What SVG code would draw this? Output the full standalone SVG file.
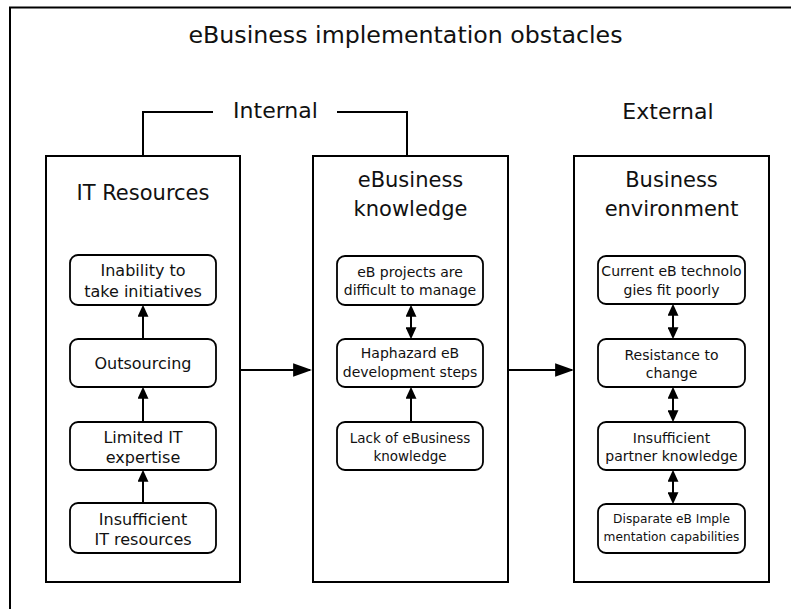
<svg xmlns="http://www.w3.org/2000/svg" width="791" height="609" viewBox="0 0 791 609">
<style>
.frame{fill:none;stroke:#000;stroke-width:2}
.grp{fill:#fff;stroke:#000;stroke-width:2}
.item{fill:#fff;stroke:#000;stroke-width:1.8}
text{font-family:"DejaVu Sans","Liberation Sans",sans-serif;fill:#111;text-anchor:middle}
.h1{font-size:23.7px}
.h2{font-size:22px}
.h3{font-size:21px}
.t16{font-size:16px}
.t14{font-size:14px}
.t13{font-size:13.5px}
.t12{font-size:12.2px}
.conn{stroke:#000;stroke-width:2;fill:none}
.small{marker-end:url(#ah)}
.dbl{marker-start:url(#ah);marker-end:url(#ah)}
.big{marker-end:url(#bh)}
</style>
<defs>
<marker id="ah" markerUnits="userSpaceOnUse" markerWidth="12" markerHeight="11" viewBox="0 0 11 10" refX="9" refY="5" orient="auto-start-reverse">
<path d="M0,0 L11,5 L0,10 z" fill="#000"/>
</marker>
<marker id="bh" markerUnits="userSpaceOnUse" markerWidth="19" markerHeight="14" viewBox="0 0 18 13" refX="16" refY="6.5" orient="auto">
<path d="M0,0 L18,6.5 L0,13 z" fill="#000"/>
</marker>
</defs>
<rect width="791" height="609" fill="#fff"/>
<rect class="frame" x="10" y="7.5" width="800" height="620"/>
<text class="h1" x="405.5" y="43">eBusiness implementation obstacles</text>

<g id="internal-label">
<path class="conn" d="M143,156 V112 H213 M337,112 H407 V156"/>
<text class="h2" x="275.5" y="118">Internal</text>
</g>
<g id="external-label">
<text class="h2" x="668" y="119">External</text>
</g>

<g id="it-resources">
<rect class="grp" x="46" y="156" width="194" height="426"/>
<text class="h3" x="143" y="200">IT Resources</text>
</g>
<g id="ebusiness-knowledge">
<rect class="grp" x="313" y="156" width="195" height="426"/>
<text class="h3" x="410.5" y="187">eBusiness</text>
<text class="h3" x="410.5" y="216">knowledge</text>
</g>
<g id="business-environment">
<rect class="grp" x="574" y="156" width="195" height="426"/>
<text class="h3" x="671.5" y="187">Business</text>
<text class="h3" x="671.5" y="216">environment</text>
</g>

<g id="inability">
<rect class="item" x="70" y="255" width="146" height="50" rx="8"/>
<text class="t16" x="143" y="276">Inability to</text>
<text class="t16" x="143" y="297">take initiatives</text>
</g>
<g id="outsourcing">
<rect class="item" x="70" y="339" width="146" height="48" rx="8"/>
<text class="t16" x="143" y="369">Outsourcing</text>
</g>
<g id="limited-it">
<rect class="item" x="70" y="422" width="146" height="48" rx="8"/>
<text class="t16" x="143" y="443">Limited IT</text>
<text class="t16" x="143" y="463">expertise</text>
</g>
<g id="insufficient-it">
<rect class="item" x="70" y="503" width="146" height="50" rx="8"/>
<text class="t16" x="143" y="525">Insufficient</text>
<text class="t16" x="143" y="545">IT resources</text>
</g>

<g id="eb-projects">
<rect class="item" x="337" y="256" width="146" height="49" rx="8"/>
<text class="t14" x="410" y="277">eB projects are</text>
<text class="t14" x="410" y="295">difficult to manage</text>
</g>
<g id="haphazard">
<rect class="item" x="337" y="339" width="146" height="48" rx="8"/>
<text class="t14" x="410" y="358">Haphazard eB</text>
<text class="t14" x="410" y="377">development steps</text>
</g>
<g id="lack-knowledge">
<rect class="item" x="337" y="422" width="146" height="48" rx="8"/>
<text class="t13" x="410" y="443">Lack of eBusiness</text>
<text class="t13" x="410" y="461">knowledge</text>
</g>

<g id="current-tech">
<rect class="item" x="598" y="256" width="147" height="48" rx="8"/>
<text class="t14" x="671.5" y="276">Current eB technolo</text>
<text class="t14" x="671.5" y="295">gies fit poorly</text>
</g>
<g id="resistance">
<rect class="item" x="598" y="339" width="147" height="48" rx="8"/>
<text class="t14" x="671.5" y="360">Resistance to</text>
<text class="t14" x="671.5" y="378">change</text>
</g>
<g id="partner-knowledge">
<rect class="item" x="598" y="422" width="147" height="48" rx="8"/>
<text class="t14" x="671.5" y="443">Insufficient</text>
<text class="t14" x="671.5" y="461">partner knowledge</text>
</g>
<g id="disparate">
<rect class="item" x="598" y="504" width="147" height="49" rx="8"/>
<text class="t12" x="671.5" y="523">Disparate eB Imple</text>
<text class="t12" x="671.5" y="541">mentation capabilities</text>
</g>

<g id="connectors">
<line class="conn small" x1="143" y1="339" x2="143" y2="307"/>
<line class="conn small" x1="143" y1="422" x2="143" y2="389"/>
<line class="conn small" x1="143" y1="503" x2="143" y2="472"/>
<line class="conn dbl" x1="411" y1="307" x2="411" y2="337"/>
<line class="conn small" x1="411" y1="422" x2="411" y2="389"/>
<line class="conn dbl" x1="673" y1="306" x2="673" y2="337"/>
<line class="conn dbl" x1="673" y1="389" x2="673" y2="420"/>
<line class="conn dbl" x1="673" y1="472" x2="673" y2="502"/>
<line class="conn big" x1="240" y1="370" x2="310" y2="370"/>
<line class="conn big" x1="508" y1="370" x2="572" y2="370"/>
</g>
</svg>
